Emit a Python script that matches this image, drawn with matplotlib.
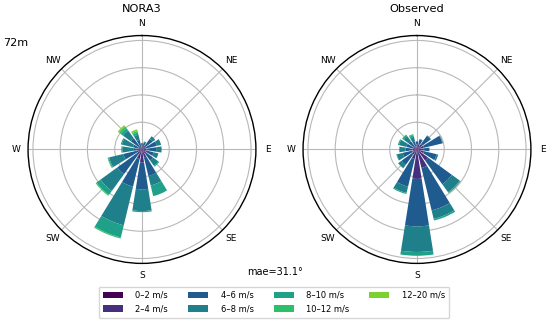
import numpy as np
import matplotlib
matplotlib.use("Agg")
import matplotlib.pyplot as plt

# wind rose frequencies (%) per speed bin (rows) and direction (columns)
directions = ["N", "NNE", "NE", "ENE", "E", "ESE", "SE", "SSE",
              "S", "SSW", "SW", "WSW", "W", "WNW", "NW", "NNW"]
speed_bins = ["0–2 m/s", "2–4 m/s", "4–6 m/s", "6–8 m/s",
              "8–10 m/s", "10–12 m/s", "12–20 m/s"]
compass_labels = ["N", "NE", "E", "SE", "S", "SW", "W", "NW"]

nora3_freq = [
    [0.2, 0.2, 0.2, 0.2, 0.2, 0.2, 0.2, 0.3, 0.4, 0.3, 0.2, 0.2, 0.2, 0.2, 0.2, 0.1],
    [0.5, 0.5, 0.6, 0.6, 0.6, 0.6, 0.8, 1.2, 2.0, 1.5, 1.0, 0.8, 0.5, 0.5, 0.5, 0.4],
    [0.4, 0.6, 1.6, 2.0, 1.8, 1.4, 1.5, 3.5, 4.9, 5.2, 4.4, 2.5, 0.9, 1.0, 1.8, 1.3],
    [0.1, 0.2, 0.6, 0.8, 1.0, 0.9, 1.2, 1.8, 4.0, 7.3, 3.8, 2.7, 2.0, 2.1, 1.8, 1.0],
    [0.0, 0.0, 0.0, 0.0, 0.0, 0.0, 0.2, 2.0, 0.2, 2.3, 0.9, 0.2, 0.2, 0.2, 0.5, 0.4],
    [0.0, 0.0, 0.0, 0.0, 0.0, 0.0, 0.0, 0.0, 0.0, 0.2, 0.2, 0.1, 0.0, 0.0, 0.4, 0.3],
    [0.0, 0.0, 0.0, 0.0, 0.0, 0.0, 0.0, 0.0, 0.0, 0.0, 0.0, 0.0, 0.0, 0.0, 0.3, 0.3],
]

observed_freq = [
    [0.3, 0.3, 0.3, 0.3, 0.3, 0.3, 0.3, 0.4, 0.6, 0.3, 0.3, 0.2, 0.2, 0.2, 0.2, 0.2],
    [0.6, 0.7, 0.9, 1.0, 0.8, 1.0, 2.2, 3.1, 4.8, 1.5, 0.9, 0.7, 0.6, 0.6, 0.5, 0.4],
    [0.5, 0.9, 1.9, 3.5, 1.1, 2.4, 5.4, 8.0, 8.7, 5.2, 2.3, 1.8, 1.3, 1.2, 1.2, 0.9],
    [0.1, 0.1, 0.1, 0.1, 0.1, 0.3, 1.8, 1.6, 4.7, 1.2, 0.7, 1.1, 1.1, 1.4, 1.1, 0.9],
    [0.0, 0.0, 0.0, 0.0, 0.0, 0.0, 0.2, 0.3, 0.7, 0.2, 0.1, 0.1, 0.1, 0.2, 0.3, 0.3],
    [0.0, 0.0, 0.0, 0.0, 0.0, 0.0, 0.0, 0.0, 0.0, 0.0, 0.0, 0.0, 0.0, 0.0, 0.1, 0.2],
    [0.0, 0.0, 0.0, 0.0, 0.0, 0.0, 0.0, 0.0, 0.0, 0.0, 0.0, 0.0, 0.0, 0.0, 0.0, 0.0],
]

mae_deg = 31.1
height_label = "72m"

# viridis-like palette as it looks in the figure
colors = ["#440154", "#46307e", "#1f5b8e", "#1f7f8a", "#1fa088", "#2ebf6b", "#7ad12f"]


def draw_rose(ax, freq):
    n = len(directions)
    theta = np.deg2rad(np.arange(n) * 360.0 / n)
    width = 2 * np.pi / n * 0.8
    bottom = np.zeros(n)
    for i, row in enumerate(freq):
        row = np.array(row)
        ax.bar(theta, row, width=width, bottom=bottom, color=colors[i],
               label=speed_bins[i], linewidth=0, zorder=2)
        bottom += row
    ax.set_theta_zero_location("N")
    ax.set_theta_direction(-1)
    ax.set_thetagrids(np.arange(0, 360, 45), compass_labels, fontsize=6.5)
    ax.set_rgrids([5, 10, 15, 20], labels=[])
    ax.set_ylim(0, 20.9)
    ax.tick_params(axis="x", pad=-2)
    ax.grid(True, color="#b8b8b8", linewidth=0.8, zorder=0)
    ax.set_axisbelow(True)
    ax.spines["polar"].set_linewidth(1.0)


fig = plt.figure(figsize=(5.5, 3.26), dpi=100)
ax1 = fig.add_axes([0.0509, 0.192, 0.4145, 0.699], projection="polar")
ax2 = fig.add_axes([0.5509, 0.192, 0.4145, 0.699], projection="polar")
draw_rose(ax1, nora3_freq)
draw_rose(ax2, observed_freq)

fig.text(0.2582, 0.972, "NORA3", ha="center", va="center", fontsize=8.2)
fig.text(0.7582, 0.972, "Observed", ha="center", va="center", fontsize=8.2)
fig.text(0.006, 0.868, height_label, ha="left", va="center", fontsize=8)
fig.text(0.5, 0.166, f"mae={mae_deg}°", ha="center", va="center", fontsize=7)

handles, labels = ax1.get_legend_handles_labels()
fig.legend(handles, labels, loc="center", bbox_to_anchor=(0.498, 0.073),
           ncol=4, fontsize=6, handlelength=2.4, handleheight=0.8,
           handletextpad=1.5, columnspacing=2.4, labelspacing=0.55,
           borderpad=0.5, frameon=True)

fig.savefig("out.png", dpi=100)
